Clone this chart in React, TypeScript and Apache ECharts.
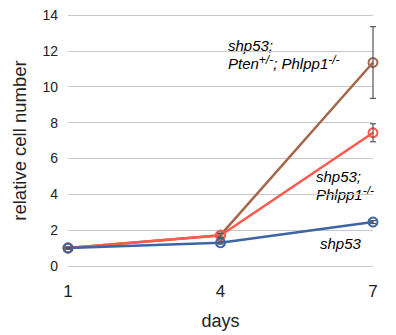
import React, { useEffect, useRef } from "react";
import * as echarts from "echarts";

const days = [1, 4, 7];
const shp53 = [1.0, 1.3, 2.45];
const shp53Err = [0.05, 0.08, 0.08];
const phlpp = [1.0, 1.7, 7.43];
const phlppErr = [0.05, 0.12, 0.5];
const pten = [1.0, 1.72, 11.35];
const ptenErr = [0.05, 0.1, 2.0];
const xTicks = [1, 4, 7];

const BLUE = "#3d64a3";
const RED = "#ff5a4c";
const BROWN = "#a5674a";
const FONT = "Liberation Sans, Arial, Helvetica, sans-serif";

function pts(vals: number[]) {
  return days.map((d, i) => [d, vals[i]]);
}
function errData(vals: number[], errs: number[]) {
  return days.map((d, i) => [d, vals[i] - errs[i], vals[i] + errs[i]]);
}

function errSeries(vals: number[], errs: number[], z: number) {
  return {
    type: "custom",
    z,
    data: errData(vals, errs),
    renderItem: (params: any, api: any) => {
      const x = api.value(0);
      const lo = api.coord([x, api.value(1)]);
      const hi = api.coord([x, api.value(2)]);
      const w = 3;
      const style = { stroke: "#555", lineWidth: 1.2 };
      return {
        type: "group",
        children: [
          { type: "line", shape: { x1: lo[0], y1: lo[1], x2: hi[0], y2: hi[1] }, style },
          { type: "line", shape: { x1: lo[0] - w, y1: lo[1], x2: lo[0] + w, y2: lo[1] }, style },
          { type: "line", shape: { x1: hi[0] - w, y1: hi[1], x2: hi[0] + w, y2: hi[1] }, style },
        ],
      };
    },
  };
}

function lineSeries(name: string, vals: number[], color: string, z: number) {
  return {
    name,
    type: "line",
    z,
    data: pts(vals),
    symbol: "circle",
    symbolSize: 9,
    itemStyle: { color: "rgba(255,255,255,0)", borderColor: color, borderWidth: 2 },
    lineStyle: { color, width: 2.5 },
  };
}

const labelRich = {
  i: { fontStyle: "italic", fontSize: 15, fontFamily: FONT, color: "#222" },
  sup: { fontStyle: "italic", fontSize: 12, fontFamily: FONT, color: "#222", verticalAlign: "top", padding: [0, 0, 9, 0] },
};

export default function App() {
  const ref = useRef<HTMLDivElement>(null);
  useEffect(() => {
    if (!ref.current) return;
    const chart = echarts.init(ref.current, undefined, { renderer: "svg" });
    chart.setOption({
      animation: false,
      grid: { left: 68, right: 23, top: 15, bottom: 68 },
      xAxis: {
        type: "value",
        min: 1,
        max: 7,
        interval: 1,
        name: "days",
        nameLocation: "middle",
        nameGap: 46,
        nameTextStyle: { fontSize: 18, color: "#222", fontFamily: FONT },
        axisLine: { show: false },
        axisTick: { show: false },
        splitLine: { show: false },
        axisLabel: {
          fontSize: 17,
          color: "#222",
          fontFamily: FONT,
          margin: 17,
          formatter: (v: number) => (xTicks.includes(v) ? String(v) : ""),
        },
      },
      yAxis: {
        type: "value",
        min: 0,
        max: 14,
        interval: 2,
        name: "relative cell number",
        nameLocation: "middle",
        nameGap: 39,
        nameTextStyle: { fontSize: 18.5, color: "#222", fontFamily: FONT },
        axisLine: { show: false },
        axisTick: { show: false },
        splitLine: { lineStyle: { color: "#c8c8c8", width: 1.2 } },
        axisLabel: { fontSize: 14, color: "#222", fontFamily: FONT, margin: 10 },
      },
      series: [
        errSeries(shp53, shp53Err, 5),
        errSeries(phlpp, phlppErr, 5),
        errSeries(pten, ptenErr, 5),
        lineSeries("shp53; Pten+/-; Phlpp1-/-", pten, BROWN, 2),
        lineSeries("shp53; Phlpp1-/-", phlpp, RED, 3),
        lineSeries("shp53", shp53, BLUE, 4),
      ],
      graphic: [
        {
          type: "text",
          left: 228,
          top: 36,
          style: {
            text: "{i|shp53;}\n{i|Pten}{sup|+/-}{i|; Phlpp1}{sup|-/-}",
            rich: labelRich,
            lineHeight: 18,
          },
        },
        {
          type: "text",
          left: 316,
          top: 167,
          style: {
            text: "{i|shp53;}\n{i|Phlpp1}{sup|-/-}",
            rich: labelRich,
            lineHeight: 18,
          },
        },
        {
          type: "text",
          left: 320,
          top: 236,
          style: { text: "{i|shp53}", rich: labelRich },
        },
      ],
    });
    return () => chart.dispose();
  }, []);
  return <div ref={ref} style={{ width: 396, height: 335, position: "absolute", left: 0, top: 0 }} />;
}
